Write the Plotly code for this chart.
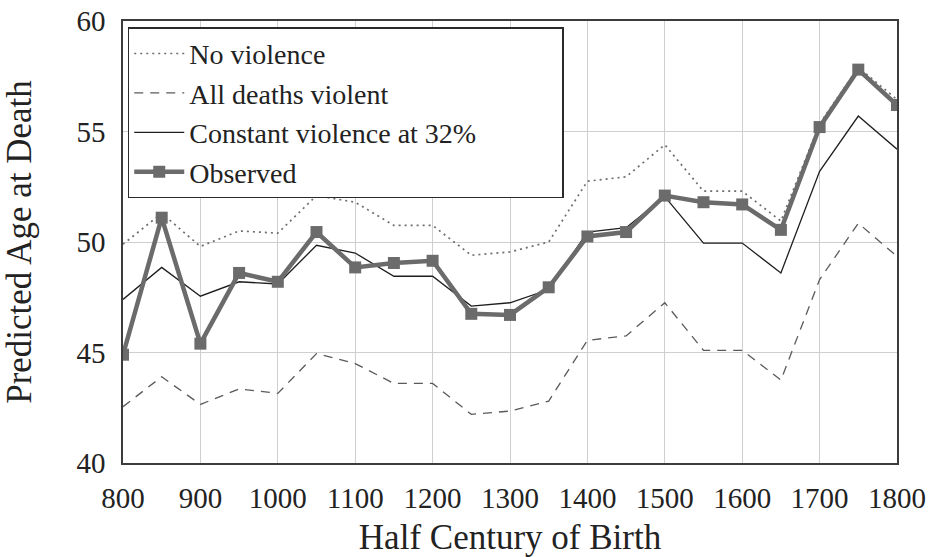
import plotly.graph_objects as go

# half century of birth
years = list(range(800, 1801, 50))

# predicted age at death for each scenario
no_violence = [49.9, 51.3, 49.8, 50.5, 50.4, 52.1, 51.8, 50.75, 50.75, 49.4, 49.55,
               50.0, 52.75, 52.95, 54.4, 52.3, 52.3, 50.95, 55.35, 57.9, 56.45]
all_violent = [42.55, 43.9, 42.65, 43.35, 43.15, 44.95, 44.5, 43.6, 43.6, 42.2, 42.35,
               42.8, 45.55, 45.75, 47.25, 45.1, 45.1, 43.75, 48.3, 50.85, 49.35]
constant_32 = [47.4, 48.85, 47.55, 48.2, 48.1, 49.85, 49.5, 48.45, 48.45, 47.1, 47.25,
               47.85, 50.45, 50.65, 52.05, 49.95, 49.95, 48.6, 53.2, 55.7, 54.2]
observed = [44.9, 51.1, 45.4, 48.6, 48.2, 50.45, 48.85, 49.05, 49.15, 46.75, 46.7,
            47.95, 50.25, 50.45, 52.1, 51.8, 51.7, 50.55, 55.2, 57.8, 56.2]

fig = go.Figure()

fig.add_trace(go.Scatter(x=years, y=no_violence, name="No violence", mode="lines",
                         line=dict(color="#6e6e6e", width=1.7, dash="2px,4px")))
fig.add_trace(go.Scatter(x=years, y=all_violent, name="All deaths violent", mode="lines",
                         line=dict(color="#5a5a5a", width=1.3, dash="9px,7px")))
fig.add_trace(go.Scatter(x=years, y=constant_32, name="Constant violence at 32%", mode="lines",
                         line=dict(color="#1e1e1e", width=1.3)))
fig.add_trace(go.Scatter(x=years, y=observed, name="Observed", mode="lines+markers",
                         line=dict(color="#6b6b6b", width=4.5),
                         marker=dict(symbol="square", size=12, color="#6b6b6b")))

fig.update_xaxes(range=[800, 1800], tickvals=list(range(800, 1801, 100)),
                 showgrid=True, gridcolor="#cfcfcf", gridwidth=1.2,
                 showline=True, linecolor="#3c3c3c", linewidth=1.6, mirror=True,
                 ticks="", zeroline=False, automargin=False,
                 tickfont=dict(size=29), ticklabelstandoff=8,
                 title=dict(text="Half Century of Birth", standoff=26))
fig.update_yaxes(range=[40, 60], tickvals=[40, 45, 50, 55, 60],
                 showgrid=True, gridcolor="#cfcfcf", gridwidth=1.2,
                 showline=True, linecolor="#3c3c3c", linewidth=1.6, mirror=True,
                 ticks="", zeroline=False, automargin=False,
                 tickfont=dict(size=29), ticklabelstandoff=10,
                 title=dict(text="Predicted Age at Death", standoff=42))

fig.update_layout(
    width=933, height=557,
    margin=dict(l=123, r=36, t=21, b=94),
    plot_bgcolor="white", paper_bgcolor="white",
    font=dict(family="Liberation Serif", size=29, color="#222222"),
    showlegend=True,
    legend=dict(x=0.006, y=0.986, xanchor="left", yanchor="top",
                orientation="h", entrywidth=367, entrywidthmode="pixels",
                bgcolor="white", bordercolor="#2a2a2a", borderwidth=1.6,
                font=dict(size=28), tracegroupgap=0, itemwidth=50),
)

# drop the default page margin so the figure sits at the window's corner
fig.write_html("out.html", config={"displayModeBar": False},
               post_script="document.body.style.margin = '0';")
